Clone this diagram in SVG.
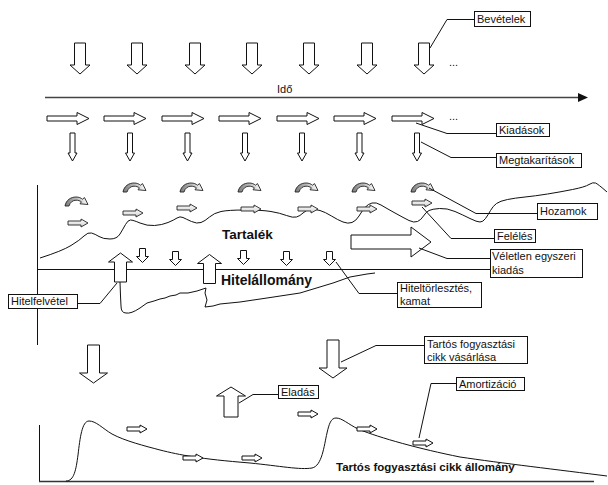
<svg xmlns="http://www.w3.org/2000/svg" xmlns:xlink="http://www.w3.org/1999/xlink" width="608" height="485" viewBox="0 0 608 485">
  <style>
    .arr { fill: #fff; stroke: #111; stroke-width: 1; stroke-linejoin: miter; }
    .soft { fill: url(#softFill); stroke: #222; stroke-width: 0.9; }
    .curl { fill: url(#curlFill); stroke: #222; stroke-width: 0.9; }
    .ln { fill: none; stroke: #111; stroke-width: 1; }
    .box { fill: #fff; stroke: #111; stroke-width: 1; }
    .lbl { font-family: "Liberation Sans", Arial, sans-serif; font-size: 11px; fill: #111; }
    .big { font-family: "Liberation Sans", Arial, sans-serif; font-weight: bold; fill: #111; }
  </style>
  <defs>
    <linearGradient id="curlFill" x1="0" y1="0" x2="1" y2="0">
      <stop offset="0" stop-color="#7a7a7a"/>
      <stop offset="0.6" stop-color="#c8c8c8"/>
      <stop offset="1" stop-color="#ffffff"/>
    </linearGradient>
    <linearGradient id="softFill" x1="0" y1="0" x2="0" y2="1">
      <stop offset="0" stop-color="#ffffff"/>
      <stop offset="1" stop-color="#d0d0d0"/>
    </linearGradient>
    <!-- income arrow, origin = top centre -->
    <path id="dnBig" d="M-5.5,0 H5.5 V22 H10 L0,31 L-10,22 H-5.5 Z"/>
    <!-- spending arrow, origin = left centre -->
    <path id="rtMid" d="M0,-2.5 H30 V-6 L42,0 L30,6 V2.5 H0 Z"/>
    <!-- saving arrow, origin = top centre -->
    <path id="dnThin" d="M-2.5,0 H2.5 V20 H4.5 L0,28 L-4.5,20 H-2.5 Z"/>
    <!-- yield curl, origin = top left -->
    <path id="curl" d="M0,9 C1,3 6,0 11,0 C14,0 16,1 17.5,2.2 L19.5,0.6 L23,7.5 L15,6.8 L16.4,4.8 C15,3.8 13,3.2 11,3.2 C8,3.2 5,5.2 4,9 Z"/>
    <!-- small flow arrow, origin = left centre -->
    <path id="rtSmall" d="M0,-2 H13 V-4 L20,0 L13,4 V2 H0 Z"/>
    <!-- repayment arrow, origin = top centre -->
    <path id="dnTiny" d="M-3,0 H3 V8 H6 L0,14 L-6,8 H-3 Z"/>
    <!-- borrowing arrow, origin = tip -->
    <path id="upMid" d="M0,0 L12,9 H6 V29 H-6 V9 H-12 Z"/>
    <!-- purchase arrow, origin = top centre -->
    <path id="dnLarge" d="M-6,0 H6 V28 H14 L0,38 L-14,28 H-6 Z"/>
    <!-- sale arrow, origin = tip -->
    <path id="upLarge" d="M0,0 L14.5,9 H7 V30 H-7 V9 H-14.5 Z"/>
  </defs>

  <!-- axes and curves -->
  <g id="axes">
    <line x1="45" y1="97.5" x2="579" y2="97.5" stroke="#444" stroke-width="1.5"/>
    <path d="M578,93 L588,97.5 L578,102 Z" fill="#111"/>
    <text class="lbl" x="277" y="93" fill="#333">Idő</text>
    <line class="ln" x1="37.5" y1="185" x2="37.5" y2="345"/>
    <line class="ln" x1="37" y1="269.5" x2="490" y2="269.5"/>
    <line class="ln" x1="39.5" y1="425" x2="39.5" y2="481"/>
    <line x1="39" y1="481.5" x2="594" y2="481.5" stroke="#333" stroke-width="1.3"/>
  </g>

  <g id="reserve-curve">
    <path class="ln" d="M40,258 Q62,251 71,245.5 Q80,240 84,236 Q88,232 91.5,233 Q95,234 99,236.5 Q103,239 110,239 Q117,239 120,234 Q123,229 125.5,224.5 Q128,220 130.5,220 Q133,220 140,223 Q147,226 154.5,225.5 Q162,225 168,222.5 Q174,220 177,218 Q180,216 183,217.5 Q186,219 191.5,221.5 Q197,224 201,222.5 Q205,221 209.5,217 Q214,213 221,211.5 Q228,210 245,210 Q262,210 271,211.5 Q280,213 286.5,215.5 Q293,218 296.5,217 Q300,216 303,213 Q306,210 310.5,209.5 Q315,209 320,210.5 Q325,212 331.5,216 Q338,220 343,222 Q348,224 352,222.5 Q356,221 359,216 Q362,211 365,207.5 Q368,204 372,203 Q376,202 381,205 Q386,208 395,213 Q404,218 409,220.5 Q414,223 417.5,221.5 Q421,220 423.5,216 Q426,212 429,210.5 Q432,209 439.5,208.5 Q447,208 455,211.5 Q463,215 470,218.5 Q477,222 480,222 Q483,222 485.5,218.5 Q488,215 490.5,210.5 Q493,206 496.5,203.5 Q500,201 507.5,199.5 Q515,198 525,197 Q535,196 547.5,194 Q560,192 572.5,189.5 Q585,187 589,184.5 Q593,182 595.5,183 Q598,184 607,192"/>
  </g>

  <g id="loan-curve">
    <path class="ln" stroke-linejoin="round" d="M120,282 L120.5,296 L121,306 Q121,313 126,313 Q131,314 140,308 L147,303 L154,301 L160,299 L165,298 L170,296 L176,295 L180,293 L188,293 L197,291 L206,288 L205,293 L207,300 L205,307 L213,306 L220,304 L240,302 L267,298 L300,293 L333,283 L350,277 L367,274 L375,273"/>
  </g>

  <g id="durable-curve">
    <path class="ln" d="M66,481 C74,481 76,470 78,455 C80,438 82,421 89,421 C96,421 102,428 112,434 C125,441 145,446 160,450 C180,455 200,459 250,463 C280,466 300,470 312,468 C322,466 324,446 327,433 C329,424 331,418 336,418 C342,418 348,424 358,429 C380,438 420,449 460,457 C500,463 560,470 607,476"/>
  </g>

  <!-- income flows -->
  <g id="income-arrows" class="arr">
    <use xlink:href="#dnBig" x="80" y="43"/>
    <use xlink:href="#dnBig" x="137" y="43"/>
    <use xlink:href="#dnBig" x="195" y="43"/>
    <use xlink:href="#dnBig" x="252" y="43"/>
    <use xlink:href="#dnBig" x="309" y="43"/>
    <use xlink:href="#dnBig" x="367" y="43"/>
    <use xlink:href="#dnBig" x="424" y="43"/>
  </g>
  <text class="lbl" x="449" y="66">...</text>

  <!-- spending flows -->
  <g id="spending-arrows" class="arr">
    <use xlink:href="#rtMid" x="47" y="118.5"/>
    <use xlink:href="#rtMid" x="104" y="118.5"/>
    <use xlink:href="#rtMid" x="162" y="118.5"/>
    <use xlink:href="#rtMid" x="219" y="118.5"/>
    <use xlink:href="#rtMid" x="277" y="118.5"/>
    <use xlink:href="#rtMid" x="334" y="118.5"/>
    <use xlink:href="#rtMid" x="392" y="118.5"/>
  </g>
  <text class="lbl" x="449" y="120">...</text>

  <!-- saving flows -->
  <g id="saving-arrows" class="arr">
    <use xlink:href="#dnThin" x="72.5" y="133"/>
    <use xlink:href="#dnThin" x="130" y="133"/>
    <use xlink:href="#dnThin" x="187.5" y="133"/>
    <use xlink:href="#dnThin" x="245" y="133"/>
    <use xlink:href="#dnThin" x="302" y="133"/>
    <use xlink:href="#dnThin" x="359.5" y="133"/>
    <use xlink:href="#dnThin" x="417" y="133"/>
  </g>

  <!-- yields on the reserve -->
  <g id="yield-curls" class="curl">
    <use xlink:href="#curl" x="65" y="197"/>
    <use xlink:href="#curl" x="123" y="183"/>
    <use xlink:href="#curl" x="180" y="183"/>
    <use xlink:href="#curl" x="238" y="183"/>
    <use xlink:href="#curl" x="295" y="183"/>
    <use xlink:href="#curl" x="352" y="183"/>
    <use xlink:href="#curl" x="411" y="183"/>
  </g>

  <!-- drawing down the reserve -->
  <g id="drawdown-arrows" class="soft">
    <use xlink:href="#rtSmall" x="68" y="223"/>
    <use xlink:href="#rtSmall" x="123" y="213"/>
    <use xlink:href="#rtSmall" x="177" y="208"/>
    <use xlink:href="#rtSmall" x="241" y="209"/>
    <use xlink:href="#rtSmall" x="298" y="209"/>
    <use xlink:href="#rtSmall" x="357" y="209"/>
    <use xlink:href="#rtSmall" x="412" y="203"/>
  </g>

  <text class="big" x="222" y="238.5" font-size="13.5">Tartalék</text>

  <!-- one-off expense -->
  <g id="oneoff-arrow">
    <path class="arr" d="M351,235 H411 V227 L431,242 L411,257 V249 H351 Z"/>
  </g>

  <!-- repayments and interest -->
  <g id="repay-arrows" class="arr">
    <use xlink:href="#dnTiny" x="142.5" y="248.5"/>
    <use xlink:href="#dnTiny" x="175.5" y="251.5"/>
    <use xlink:href="#dnTiny" x="243.5" y="250.5"/>
    <use xlink:href="#dnTiny" x="286.5" y="251.5"/>
    <use xlink:href="#dnTiny" x="329.5" y="251.5"/>
  </g>

  <!-- borrowing -->
  <g id="borrow-arrows" class="arr">
    <use xlink:href="#upMid" x="120.5" y="253"/>
    <use xlink:href="#upMid" x="209.5" y="254.5"/>
  </g>

  <text class="big" x="221" y="285" font-size="14">Hitelállomány</text>

  <!-- durable goods purchase and sale -->
  <g id="purchase-arrows" class="arr">
    <use xlink:href="#dnLarge" x="93.5" y="345"/>
    <use xlink:href="#dnLarge" x="333" y="340"/>
  </g>
  <g id="sale-arrow" class="arr">
    <use xlink:href="#upLarge" x="231" y="387"/>
  </g>

  <!-- depreciation -->
  <g id="depreciation-arrows" class="arr">
    <use xlink:href="#rtSmall" x="127" y="429"/>
    <use xlink:href="#rtSmall" x="183" y="458"/>
    <use xlink:href="#rtSmall" x="242" y="458"/>
    <use xlink:href="#rtSmall" x="298" y="414"/>
    <use xlink:href="#rtSmall" x="357" y="429"/>
    <use xlink:href="#rtSmall" x="413" y="443"/>
  </g>

  <text class="big" x="336" y="471" font-size="11.5">Tartós fogyasztási cikk állomány</text>

  <!-- callout leaders -->
  <g id="connectors" class="ln">
    <polyline points="430,48 447,19.5 474,19.5"/>
    <polyline points="416,123 447,133.5 496,133.5"/>
    <polyline points="421,142 451,157.5 496,157.5"/>
    <polyline points="429,188 476,213.5 537,213.5"/>
    <polyline points="422,207 451,238.5 494,238.5"/>
    <polyline points="419,248 447,258.5 490,258.5"/>
    <polyline points="336,262 359,293.5 397,293.5"/>
    <polyline points="117,283 100,303.5 77,303.5"/>
    <polyline points="341,362 376,345.5 424,345.5"/>
    <polyline points="239,403 253,394.5 278,394.5"/>
    <polyline points="419,438 431,383.5 456,383.5"/>
  </g>

  <!-- callout boxes -->
  <g id="lbl-bevetelek">
    <rect class="box" x="474.5" y="11.5" width="56" height="15"/>
    <text class="lbl" x="477" y="23">Bevételek</text>
  </g>
  <g id="lbl-kiadasok">
    <rect class="box" x="496.5" y="123.5" width="53" height="13"/>
    <text class="lbl" x="499" y="134">Kiadások</text>
  </g>
  <g id="lbl-megtakaritasok">
    <rect class="box" x="496.5" y="153.5" width="85" height="14"/>
    <text class="lbl" x="499" y="164">Megtakarítások</text>
  </g>
  <g id="lbl-hozamok">
    <rect class="box" x="537.5" y="203.5" width="60" height="16"/>
    <text class="lbl" x="540" y="215">Hozamok</text>
  </g>
  <g id="lbl-feleles">
    <rect class="box" x="494.5" y="229.5" width="41" height="13"/>
    <text class="lbl" x="497" y="240">Felélés</text>
  </g>
  <g id="lbl-veletlen">
    <rect class="box" x="490.5" y="249.5" width="92" height="28"/>
    <text class="lbl" x="492" y="260">Véletlen egyszeri</text>
    <text class="lbl" x="492" y="274">kiadás</text>
  </g>
  <g id="lbl-torlesztes">
    <rect class="box" x="397.5" y="282.5" width="84" height="25"/>
    <text class="lbl" x="400" y="292">Hiteltörlesztés,</text>
    <text class="lbl" x="400" y="305">kamat</text>
  </g>
  <g id="lbl-hitelfelvetel">
    <rect class="box" x="8.5" y="294.5" width="69" height="14"/>
    <text class="lbl" x="11" y="305">Hitelfelvétel</text>
  </g>
  <g id="lbl-vasarlas">
    <rect class="box" x="424.5" y="336.5" width="103" height="27"/>
    <text class="lbl" x="427" y="348">Tartós fogyasztási</text>
    <text class="lbl" x="427" y="361">cikk vásárlása</text>
  </g>
  <g id="lbl-eladas">
    <rect class="box" x="278.5" y="385.5" width="40" height="13"/>
    <text class="lbl" x="281" y="396">Eladás</text>
  </g>
  <g id="lbl-amortizacio">
    <rect class="box" x="456.5" y="377.5" width="68" height="13"/>
    <text class="lbl" x="459" y="388">Amortizáció</text>
  </g>
</svg>
